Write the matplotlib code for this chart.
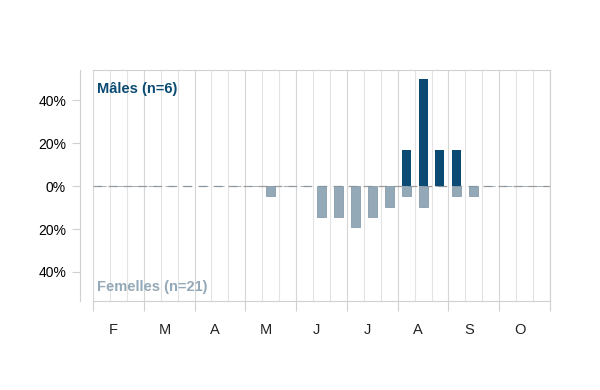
import matplotlib
matplotlib.use('Agg')
import matplotlib.pyplot as plt
import numpy as np

plt.rcParams['font.family'] = ['Liberation Sans', 'DejaVu Sans']

# Month initials (Feb -> Oct), each month split into three 10-day periods
months = ['F', 'M', 'A', 'M', 'J', 'J', 'A', 'S', 'O']

# Number of captures per 10-day period
males_n = [0, 0, 0, 0, 0, 0, 0, 0, 0,
           0, 0, 0, 0, 0, 0, 0, 0, 0,
           1, 3, 1, 1, 0, 0, 0, 0, 0]
females_n = [0, 0, 0, 0, 0, 0, 0, 0, 0,
             0, 1, 0, 0, 3, 3, 4, 3, 2,
             1, 2, 0, 1, 1, 0, 0, 0, 0]
n_males = 6
n_females = 21

y_ticks = [-40, -20, 0, 20, 40]

male_col = '#0b4b73'
female_col = '#94a9b8'
grid_col = '#e3e3e3'
axis_col = '#d0d0d0'

males_pct = np.array(males_n) / n_males * 100
females_pct = np.array(females_n) / n_females * 100
x = np.arange(len(males_n)) + 0.5

fig = plt.figure(figsize=(6, 3.9), dpi=100)
ax = fig.add_axes([93 / 600, 1 - 301 / 390, 457 / 600, 231 / 390])

# Grid: every period, darker at month boundaries
for i in range(len(males_n) + 1):
    ax.axvline(i, color='#d6d6d6' if i % 3 == 0 else grid_col, lw=0.8, zorder=0)
ax.axhline(0, color='#9c9c9c', lw=0.9, dashes=(7, 5), zorder=1)

ax.bar(x, males_pct, width=0.53, color=male_col, zorder=2)
ax.bar(x, -females_pct, width=0.53, color=female_col,
       edgecolor='#7b90a0', linewidth=0.5, zorder=2)

ax.set_xlim(0, len(males_n))
ax.set_ylim(-53.5, 54)

ax.set_yticks(y_ticks)
ax.set_yticklabels([f'{abs(v)}%' for v in y_ticks], fontsize=11, color='#222222')
ax.tick_params(axis='y', length=5.5, color=axis_col, pad=4.5)

ax.set_xticks(np.arange(0, len(males_n) + 1, 3))
ax.set_xticklabels([])
ax.tick_params(axis='x', which='major', length=7, color=axis_col, direction='out')
ax.set_xticks(np.arange(1.22, len(males_n), 3), minor=True)
ax.set_xticklabels(months, minor=True, fontsize=10.5, color='#222222')
ax.tick_params(axis='x', which='minor', length=0, pad=16)

ax.spines['left'].set_position(('outward', 9.4))
for s in ['left', 'bottom', 'top', 'right']:
    ax.spines[s].set_color(axis_col)
    ax.spines[s].set_linewidth(0.8)

ax.text(0.25, 45, f'Mâles (n={n_males})', fontsize=10.5, fontweight='bold',
        color=male_col, va='center', ha='left')
ax.text(0.25, -47, f'Femelles (n={n_females})', fontsize=10.5, fontweight='bold',
        color=female_col, va='center', ha='left')

fig.savefig('out.png', dpi=100)
